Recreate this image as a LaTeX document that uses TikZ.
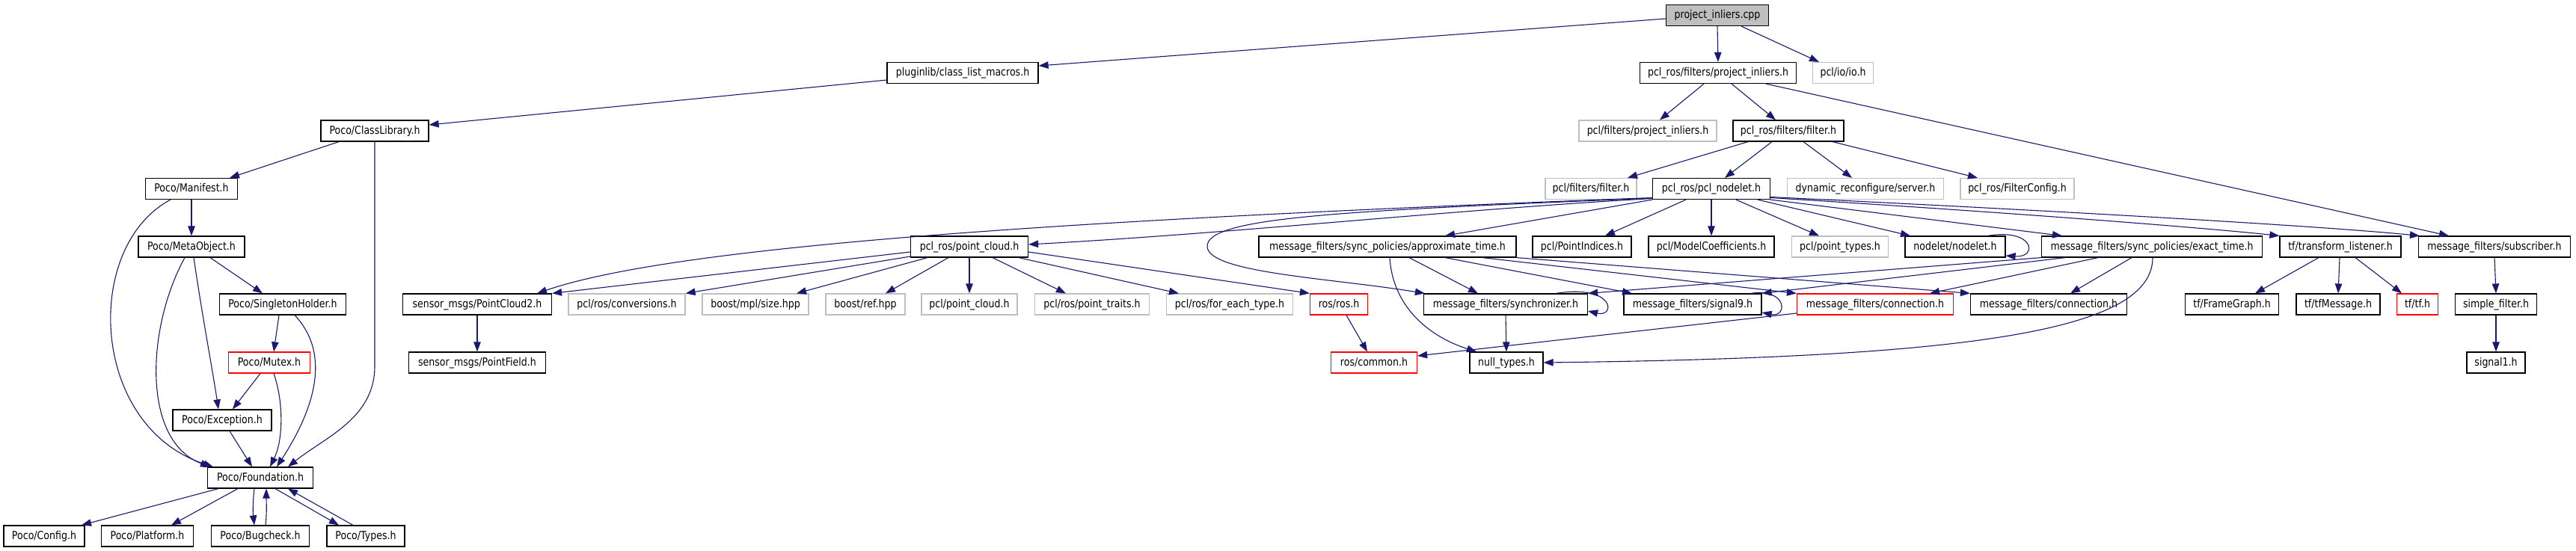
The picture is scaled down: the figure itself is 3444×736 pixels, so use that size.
\documentclass[tikz,border=0pt]{standalone}
\usepackage{fontspec}
\setmainfont{DejaVu Sans}[FakeStretch=0.85]
\usetikzlibrary{arrows.meta}
\definecolor{edgeblue}{HTML}{191970}
\definecolor{grayb}{HTML}{BFBFBF}
\newcommand\dxfont{\fontsize{14.8pt}{17pt}\selectfont}
\tikzset{
  nb/.style={draw=black, line width=1.2pt, fill=white, minimum height=28pt, inner xsep=0pt, inner ysep=0pt, text height=11pt, text depth=3pt, font=\dxfont},
  ng/.style={nb, draw=grayb},
  nr/.style={nb, draw=red},
  edge/.style={draw=edgeblue, line width=1.1pt, -{Triangle[length=13pt,width=9.5pt]}}
}
\begin{document}
\begin{tikzpicture}[x=1pt,y=-1pt]
\useasboundingbox (0,0) rectangle (3444,736);
% row 0
\node[nb, fill=grayb, minimum width=137pt] (root) at (2296,20.5) {project\_inliers.cpp};
% row 1
\node[nb, minimum width=202pt] (plg) at (1287,97.5) {pluginlib/class\_list\_macros.h};
\node[nb, minimum width=209pt] (pfpi) at (2297,97.5) {pcl\_ros/filters/project\_inliers.h};
\node[ng, minimum width=81pt] (io) at (2464,97.5) {pcl/io/io.h};
% row 2
\node[nb, minimum width=144pt] (cl) at (501,175) {Poco/ClassLibrary.h};
\node[ng, minimum width=184pt] (pfpih) at (2203,175) {pcl/filters/project\_inliers.h};
\node[nb, minimum width=148pt] (prf) at (2391,175) {pcl\_ros/filters/filter.h};
% row 3
\node[nb, minimum width=123pt] (man) at (256,252.5) {Poco/Manifest.h};
\node[ng, minimum width=122pt] (pff) at (2127,252.5) {pcl/filters/filter.h};
\node[nb, minimum width=157pt] (pn) at (2288,252.5) {pcl\_ros/pcl\_nodelet.h};
\node[ng, minimum width=209pt] (dyn) at (2494,252.5) {dynamic\_reconfigure/server.h};
\node[ng, minimum width=152pt] (fc) at (2697,252.5) {pcl\_ros/FilterConfig.h};
% row 4
\node[nb, minimum width=142pt] (meta) at (256,330) {Poco/MetaObject.h};
\node[nb, minimum width=157pt] (pc) at (1296,330) {pcl\_ros/point\_cloud.h};
\node[nb, minimum width=344pt] (apx) at (1855,330) {message\_filters/sync\_policies/approximate\_time.h};
\node[nb, minimum width=132pt] (pi) at (2115,330) {pcl/PointIndices.h};
\node[nb, minimum width=168pt] (mc) at (2288,330) {pcl/ModelCoefficients.h};
\node[ng, minimum width=129pt] (pt) at (2460,330) {pcl/point\_types.h};
\node[nb, minimum width=134pt] (nod) at (2614,330) {nodelet/nodelet.h};
\node[nb, minimum width=295pt] (ext) at (2877,330) {message\_filters/sync\_policies/exact\_time.h};
\node[nb, minimum width=162pt] (tl) at (3129,330) {tf/transform\_listener.h};
\node[nb, minimum width=203pt] (sub) at (3335,330) {message\_filters/subscriber.h};
% row 5
\node[nb, minimum width=169pt] (sh) at (378,407) {Poco/SingletonHolder.h};
\node[nb, minimum width=199pt] (pc2) at (638,407) {sensor\_msgs/PointCloud2.h};
\node[ng, minimum width=156pt] (conv) at (838,407) {pcl/ros/conversions.h};
\node[ng, minimum width=142pt] (size) at (1010,407) {boost/mpl/size.hpp};
\node[ng, minimum width=106pt] (ref) at (1157,407) {boost/ref.hpp};
\node[ng, minimum width=128pt] (pcld) at (1296,407) {pcl/point\_cloud.h};
\node[ng, minimum width=153pt] (ptr) at (1460,407) {pcl/ros/point\_traits.h};
\node[ng, minimum width=169pt] (fet) at (1644,407) {pcl/ros/for\_each\_type.h};
\node[nr, minimum width=77pt] (ros) at (1790,407) {ros/ros.h};
\node[nb, minimum width=219pt] (syn) at (2013,407) {message\_filters/synchronizer.h};
\node[nb, minimum width=184pt] (sig9) at (2263,407) {message\_filters/signal9.h};
\node[nr, minimum width=209pt] (cr) at (2507,407) {message\_filters/connection.h};
\node[nb, minimum width=209pt] (cb) at (2739,407) {message\_filters/connection.h};
\node[nb, minimum width=125pt] (fg) at (2984,407) {tf/FrameGraph.h};
\node[nb, minimum width=112pt] (tfm) at (3126,407) {tf/tfMessage.h};
\node[nr, minimum width=55pt] (tf) at (3232,407) {tf/tf.h};
\node[nb, minimum width=109pt] (sf) at (3337,407) {simple\_filter.h};
% row 6
\node[nr, minimum width=109pt] (mut) at (360,485) {Poco/Mutex.h};
\node[nb, minimum width=183pt] (pf) at (638,485) {sensor\_msgs/PointField.h};
\node[nr, minimum width=115pt] (com) at (1837,485) {ros/common.h};
\node[nb, minimum width=98pt] (nt) at (2014,485) {null\_types.h};
\node[nb, minimum width=78pt] (s1) at (3337,485) {signal1.h};
% row 7-9
\node[nb, minimum width=132pt] (exc) at (297,562) {Poco/Exception.h};
\node[nb, minimum width=141pt] (fnd) at (348,639) {Poco/Foundation.h};
\node[nb, minimum width=108pt] (cfg) at (59,717) {Poco/Config.h};
\node[nb, minimum width=123pt] (plat) at (197,717) {Poco/Platform.h};
\node[nb, minimum width=131pt] (bug) at (348,717) {Poco/Bugcheck.h};
\node[nb, minimum width=104pt] (typ) at (489,717) {Poco/Types.h};

% ---- edges ----
\draw[edge] ([yshift=-4.5pt]root.west) -- ([yshift=9.5pt]plg.east);
\draw[edge] (root.south) -- (pfpi.north);
\draw[edge] ([xshift=32pt]root.south) -- ([xshift=-32pt]io.north);
\draw[edge] ([yshift=-9.5pt]plg.west) -- ([yshift=8pt]cl.east);
\draw[edge] ([xshift=-48pt]cl.south) -- ([xshift=51pt]man.north);
\draw[edge] (cl.south) -- ++(0,300) .. controls +(0,70) and +(50,-40) .. ([xshift=37pt]fnd.north);
\draw[edge] (man.south) -- (meta.north);
\draw[edge] ([xshift=-28pt]man.south) .. controls (110,330) and (120,570) .. ([xshift=-63pt]fnd.north);
\draw[edge] ([xshift=25pt]meta.south) -- ([xshift=-27pt]sh.north);
\draw[edge] ([xshift=3pt]meta.south) .. controls (270,420) and (285,500) .. ([xshift=-5pt]exc.north);
\draw[edge] ([xshift=-9pt]meta.south) .. controls (195,440) and (190,590) .. ([xshift=-67pt]fnd.north);
\draw[edge] ([xshift=-5pt]sh.south) -- ([xshift=6pt]mut.north);
\draw[edge] ([xshift=16pt]sh.south) .. controls (440,470) and (425,540) .. ([xshift=22pt]fnd.north);
\draw[edge] ([xshift=-12pt]mut.south) -- ([xshift=14pt]exc.north);
\draw[edge] ([xshift=6pt]mut.south) .. controls (380,540) and (378,590) .. ([xshift=13pt]fnd.north);
\draw[edge] ([xshift=10pt]exc.south) -- ([xshift=-11pt]fnd.north);
\draw[edge] ([xshift=-56pt]fnd.south) -- ([xshift=50pt]cfg.north);
\draw[edge] ([xshift=-30pt]fnd.south) -- ([xshift=32pt]plat.north);
\draw[edge] ([xshift=-8pt]fnd.south) .. controls +(-2,18) and +(-2,-18) .. ([xshift=-8pt]bug.north);
\draw[edge] ([xshift=7pt]bug.north) .. controls +(2,-18) and +(0,18) .. ([xshift=8pt]fnd.south);
\draw[edge] ([xshift=20pt]fnd.south) -- ([xshift=-36pt]typ.north);
\draw[edge] ([xshift=-17pt]typ.north) -- ([xshift=37pt]fnd.south);

\draw[edge] ([xshift=-19pt]pfpi.south) -- ([xshift=16pt]pfpih.north);
\draw[edge] ([xshift=18pt]pfpi.south) -- ([xshift=-17pt]prf.north);
\draw[edge] ([xshift=64pt]pfpi.south) -- ([xshift=-61pt]sub.north);
\draw[edge] ([xshift=-54pt]prf.south) -- ([xshift=49pt]pff.north);
\draw[edge] ([xshift=-22pt]prf.south) -- ([xshift=18pt]pn.north);
\draw[edge] ([xshift=20pt]prf.south) -- ([xshift=-18pt]dyn.north);
\draw[edge] ([xshift=59pt]prf.south) -- ([xshift=-53pt]fc.north);

\draw[edge] (pn.south) -- (mc.north);
\draw[edge] ([xshift=-34pt]pn.south) -- ([xshift=31pt]pi.north);
\draw[edge] (pn.south west) -- ([xshift=77pt]apx.north);
\draw[edge] ([xshift=33pt]pn.south) -- ([xshift=-28pt]pt.north);
\draw[edge] ([xshift=62pt]pn.south) -- ([xshift=-60pt]nod.north);
\draw[edge] (pn.south east) -- ([xshift=-120pt]ext.north);
\draw[edge] ([yshift=-12pt]pn.east) .. controls (2700,285) and (2950,305) .. (tl.north west);
\draw[edge] ([yshift=-11pt]pn.east) .. controls (2750,282) and (3100,302) .. ([xshift=2pt]sub.north west);
\draw[edge] ([yshift=-13pt]pn.west) .. controls (1950,280) and (1650,312) .. ([yshift=3pt]pc.east);
\draw[edge] ([yshift=-12pt]pn.west) .. controls (1400,295) and (900,330) .. ([xshift=80pt]pc2.north);
\draw[edge] ([yshift=-12.5pt]pn.west) .. controls (1800,282) and (1612,290) .. (1614,330) .. controls (1616,365) and (1780,372) .. ([xshift=2pt]syn.north west);

\draw[edge] ([yshift=-7pt]pc.west) -- (pc2.north east);
\draw[edge] ([yshift=-13pt]pc.west) -- (conv.north east);
\draw[edge] ([xshift=-56pt]pc.south) -- ([xshift=55pt]size.north);
\draw[edge] ([xshift=-28pt]pc.south) -- ([xshift=27pt]ref.north);
\draw[edge] (pc.south) -- (pcld.north);
\draw[edge] ([xshift=31pt]pc.south) -- ([xshift=-35pt]ptr.north);
\draw[edge] ([xshift=66pt]pc.south) -- ([xshift=-68pt]fet.north);
\draw[edge] ([yshift=-7pt]pc.east) -- (ros.north west);
\draw[edge] ([xshift=10pt]ros.south) -- ([xshift=-9pt]com.north);
\draw[edge] ([yshift=-12pt]cr.west) -- ([yshift=9pt]com.east);

\draw[edge] ([xshift=3pt]apx.south) .. controls (1862,410) and (1910,450) .. ([xshift=-40pt]nt.north);
\draw[edge] ([xshift=29pt]apx.south) -- ([xshift=-37pt]syn.north);
\draw[edge] ([xshift=77pt]apx.south) -- ([xshift=-81pt]sig9.north);
\draw[edge] ([xshift=127pt]apx.south) -- (cr.north west);
\draw[edge] (apx.south east) -- (cb.north west);
\draw[edge] (ext.south west) -- (syn.north east);
\draw[edge] ([xshift=-116pt]ext.south) -- (sig9.north east);
\draw[edge] ([xshift=-72pt]ext.south) -- ([xshift=73pt]cr.north);
\draw[edge] ([xshift=-27pt]ext.south) -- ([xshift=29pt]cb.north);
\draw[edge] ([xshift=1pt]ext.south) .. controls (2878,440) and (2650,478) .. (nt.east);
\draw[edge] (syn.south) -- (nt.north);
\draw[edge] ([xshift=-43pt]syn.north east) .. controls (2160,380) and (2160,425) .. ([yshift=-9pt]syn.east);
\draw[edge] ([xshift=-15pt]sig9.north east) .. controls (2390,385) and (2390,425) .. ([yshift=-11pt]sig9.east);
\draw[edge] ([xshift=-24pt]nod.north east) .. controls (2720,305) and (2725,345) .. ([yshift=-12pt]nod.east);

\draw[edge] ([xshift=-29pt]tl.south) -- ([xshift=31pt]fg.north);
\draw[edge] ([xshift=-1pt]tl.south) -- (tfm.north);
\draw[edge] ([xshift=20pt]tl.south) -- ([xshift=-21pt]tf.north);
\draw[edge] (sub.south) -- (sf.north);
\draw[edge] (sf.south) -- (s1.north);
\draw[edge] (pc2.south) -- (pf.north);
\end{tikzpicture}
\end{document}
